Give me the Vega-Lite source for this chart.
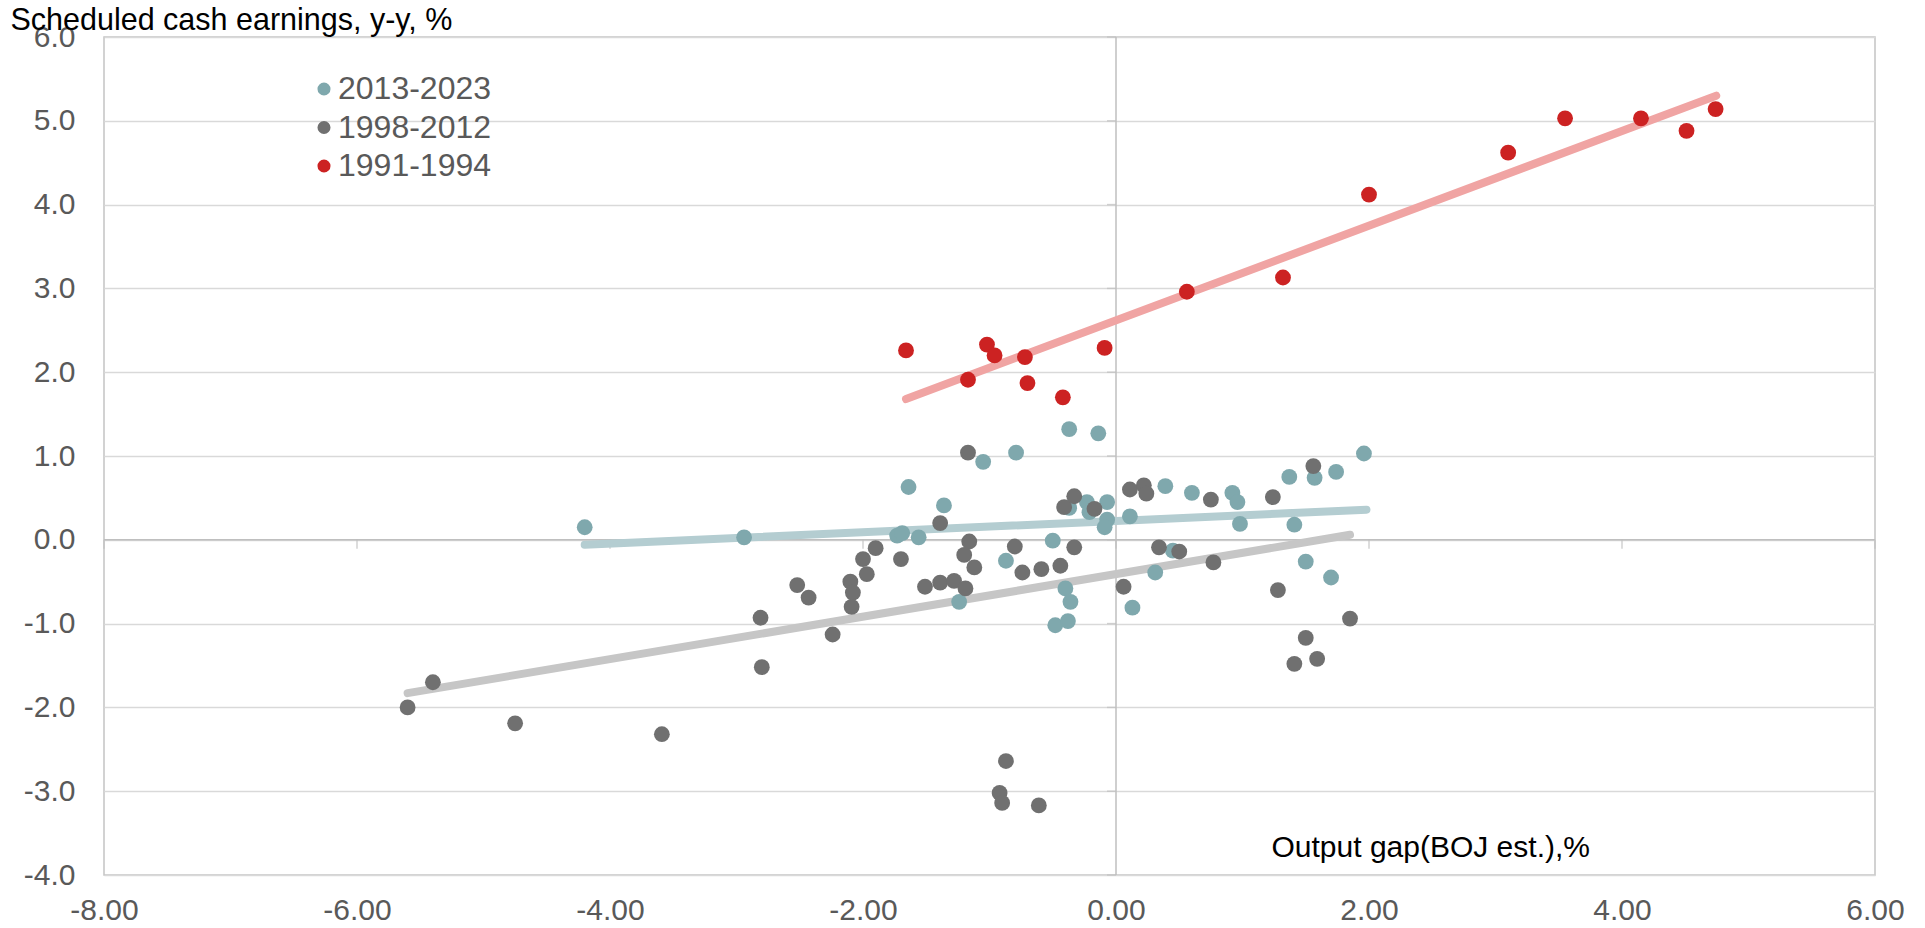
{
  "$schema": "https://vega.github.io/schema/vega-lite/v6.json",
  "width": 1771,
  "height": 838,
  "autosize": {"type": "none"},
  "padding": {"left": 104, "top": 37, "right": 50, "bottom": 53},
  "background": "white",
  "config": {
    "font": "Liberation Sans",
    "view": {"stroke": "#c4c4c4", "strokeWidth": 1.5},
    "locale": {"number": {"decimal": ".", "thousands": ",", "grouping": [3], "currency": ["$", ""], "minus": "-"}}
  },
  "datasets": {
    "pts": [
      {"period": "2013-2023", "gap": -4.20, "wage": 0.15},
      {"period": "2013-2023", "gap": -2.94, "wage": 0.03},
      {"period": "2013-2023", "gap": -1.73, "wage": 0.05},
      {"period": "2013-2023", "gap": -1.69, "wage": 0.08},
      {"period": "2013-2023", "gap": -1.56, "wage": 0.03},
      {"period": "2013-2023", "gap": -1.64, "wage": 0.63},
      {"period": "2013-2023", "gap": -1.36, "wage": 0.41},
      {"period": "2013-2023", "gap": -1.05, "wage": 0.93},
      {"period": "2013-2023", "gap": -0.79, "wage": 1.04},
      {"period": "2013-2023", "gap": -0.37, "wage": 1.32},
      {"period": "2013-2023", "gap": -0.14, "wage": 1.27},
      {"period": "2013-2023", "gap": -0.50, "wage": -0.01},
      {"period": "2013-2023", "gap": -0.87, "wage": -0.25},
      {"period": "2013-2023", "gap": -1.24, "wage": -0.74},
      {"period": "2013-2023", "gap": -0.40, "wage": -0.58},
      {"period": "2013-2023", "gap": -0.36, "wage": -0.74},
      {"period": "2013-2023", "gap": -0.48, "wage": -1.02},
      {"period": "2013-2023", "gap": -0.38, "wage": -0.97},
      {"period": "2013-2023", "gap": -0.23, "wage": 0.45},
      {"period": "2013-2023", "gap": -0.37, "wage": 0.38},
      {"period": "2013-2023", "gap": -0.21, "wage": 0.33},
      {"period": "2013-2023", "gap": -0.07, "wage": 0.45},
      {"period": "2013-2023", "gap": -0.07, "wage": 0.24},
      {"period": "2013-2023", "gap": -0.09, "wage": 0.15},
      {"period": "2013-2023", "gap": 0.11, "wage": 0.28},
      {"period": "2013-2023", "gap": 0.39, "wage": 0.64},
      {"period": "2013-2023", "gap": 0.60, "wage": 0.56},
      {"period": "2013-2023", "gap": 0.92, "wage": 0.56},
      {"period": "2013-2023", "gap": 0.96, "wage": 0.45},
      {"period": "2013-2023", "gap": 0.98, "wage": 0.19},
      {"period": "2013-2023", "gap": 1.37, "wage": 0.75},
      {"period": "2013-2023", "gap": 1.57, "wage": 0.74},
      {"period": "2013-2023", "gap": 1.74, "wage": 0.81},
      {"period": "2013-2023", "gap": 1.96, "wage": 1.03},
      {"period": "2013-2023", "gap": 1.41, "wage": 0.18},
      {"period": "2013-2023", "gap": 0.45, "wage": -0.13},
      {"period": "2013-2023", "gap": 0.31, "wage": -0.39},
      {"period": "2013-2023", "gap": 0.13, "wage": -0.81},
      {"period": "2013-2023", "gap": 1.50, "wage": -0.26},
      {"period": "2013-2023", "gap": 1.70, "wage": -0.45},
      {"period": "1998-2012", "gap": -5.60, "wage": -2.00},
      {"period": "1998-2012", "gap": -5.40, "wage": -1.70},
      {"period": "1998-2012", "gap": -4.75, "wage": -2.19},
      {"period": "1998-2012", "gap": -3.59, "wage": -2.32},
      {"period": "1998-2012", "gap": -2.81, "wage": -0.93},
      {"period": "1998-2012", "gap": -2.80, "wage": -1.52},
      {"period": "1998-2012", "gap": -2.52, "wage": -0.54},
      {"period": "1998-2012", "gap": -2.43, "wage": -0.69},
      {"period": "1998-2012", "gap": -2.24, "wage": -1.13},
      {"period": "1998-2012", "gap": -2.10, "wage": -0.50},
      {"period": "1998-2012", "gap": -2.08, "wage": -0.63},
      {"period": "1998-2012", "gap": -2.09, "wage": -0.80},
      {"period": "1998-2012", "gap": -2.00, "wage": -0.23},
      {"period": "1998-2012", "gap": -1.97, "wage": -0.41},
      {"period": "1998-2012", "gap": -1.90, "wage": -0.10},
      {"period": "1998-2012", "gap": -1.70, "wage": -0.23},
      {"period": "1998-2012", "gap": -1.51, "wage": -0.56},
      {"period": "1998-2012", "gap": -1.39, "wage": -0.51},
      {"period": "1998-2012", "gap": -1.28, "wage": -0.49},
      {"period": "1998-2012", "gap": -1.19, "wage": -0.58},
      {"period": "1998-2012", "gap": -1.39, "wage": 0.20},
      {"period": "1998-2012", "gap": -1.17, "wage": 1.04},
      {"period": "1998-2012", "gap": -1.16, "wage": -0.02},
      {"period": "1998-2012", "gap": -1.20, "wage": -0.18},
      {"period": "1998-2012", "gap": -1.12, "wage": -0.33},
      {"period": "1998-2012", "gap": -0.80, "wage": -0.08},
      {"period": "1998-2012", "gap": -0.74, "wage": -0.39},
      {"period": "1998-2012", "gap": -0.59, "wage": -0.35},
      {"period": "1998-2012", "gap": -0.44, "wage": -0.31},
      {"period": "1998-2012", "gap": -0.33, "wage": -0.09},
      {"period": "1998-2012", "gap": -0.41, "wage": 0.39},
      {"period": "1998-2012", "gap": -0.33, "wage": 0.52},
      {"period": "1998-2012", "gap": -0.17, "wage": 0.37},
      {"period": "1998-2012", "gap": -0.87, "wage": -2.64},
      {"period": "1998-2012", "gap": -0.92, "wage": -3.02},
      {"period": "1998-2012", "gap": -0.90, "wage": -3.14},
      {"period": "1998-2012", "gap": -0.61, "wage": -3.17},
      {"period": "1998-2012", "gap": 0.06, "wage": -0.56},
      {"period": "1998-2012", "gap": 0.11, "wage": 0.60},
      {"period": "1998-2012", "gap": 0.22, "wage": 0.65},
      {"period": "1998-2012", "gap": 0.24, "wage": 0.55},
      {"period": "1998-2012", "gap": 0.34, "wage": -0.09},
      {"period": "1998-2012", "gap": 0.50, "wage": -0.14},
      {"period": "1998-2012", "gap": 0.75, "wage": 0.48},
      {"period": "1998-2012", "gap": 0.77, "wage": -0.27},
      {"period": "1998-2012", "gap": 1.24, "wage": 0.51},
      {"period": "1998-2012", "gap": 1.56, "wage": 0.88},
      {"period": "1998-2012", "gap": 1.28, "wage": -0.60},
      {"period": "1998-2012", "gap": 1.85, "wage": -0.94},
      {"period": "1998-2012", "gap": 1.50, "wage": -1.17},
      {"period": "1998-2012", "gap": 1.41, "wage": -1.48},
      {"period": "1998-2012", "gap": 1.59, "wage": -1.42},
      {"period": "1991-1994", "gap": -1.66, "wage": 2.26},
      {"period": "1991-1994", "gap": -1.17, "wage": 1.91},
      {"period": "1991-1994", "gap": -1.02, "wage": 2.33},
      {"period": "1991-1994", "gap": -0.96, "wage": 2.20},
      {"period": "1991-1994", "gap": -0.72, "wage": 2.18},
      {"period": "1991-1994", "gap": -0.70, "wage": 1.87},
      {"period": "1991-1994", "gap": -0.42, "wage": 1.70},
      {"period": "1991-1994", "gap": -0.09, "wage": 2.29},
      {"period": "1991-1994", "gap": 0.56, "wage": 2.96},
      {"period": "1991-1994", "gap": 1.32, "wage": 3.13},
      {"period": "1991-1994", "gap": 2.00, "wage": 4.12},
      {"period": "1991-1994", "gap": 3.10, "wage": 4.62},
      {"period": "1991-1994", "gap": 3.55, "wage": 5.03},
      {"period": "1991-1994", "gap": 4.15, "wage": 5.03},
      {"period": "1991-1994", "gap": 4.51, "wage": 4.88},
      {"period": "1991-1994", "gap": 4.74, "wage": 5.14}
    ],
    "fits": [
      {"period": "2013-2023", "gap": -4.20, "wage": -0.06},
      {"period": "2013-2023", "gap": 1.98, "wage": 0.36},
      {"period": "1998-2012", "gap": -5.60, "wage": -1.83},
      {"period": "1998-2012", "gap": 1.85, "wage": 0.06},
      {"period": "1991-1994", "gap": -1.66, "wage": 1.68},
      {"period": "1991-1994", "gap": 4.745, "wage": 5.30}
    ],
    "xticks": [{"t": -8}, {"t": -6}, {"t": -4}, {"t": -2}, {"t": 0}, {"t": 2}, {"t": 4}, {"t": 6}],
    "yticks": [{"t": -4}, {"t": -3}, {"t": -2}, {"t": -1}, {"t": 0}, {"t": 1}, {"t": 2}, {"t": 3}, {"t": 4}, {"t": 5}, {"t": 6}],
    "one": [{"z": 0}]
  },
  "layer": [
    {
      "data": {"name": "one"},
      "mark": {"type": "rule", "color": "#bfbfbf", "strokeWidth": 1.5},
      "encoding": {
        "x": {
          "field": "z", "type": "quantitative",
          "scale": {"domain": [-8, 6], "nice": false, "zero": false},
          "axis": {
            "values": [-8, -6, -4, -2, 0, 2, 4, 6],
            "format": ".2f",
            "grid": false, "domain": false, "ticks": false,
            "labelFlush": false, "labelOverlap": false,
            "labelFont": "Liberation Sans", "labelFontSize": 30, "labelColor": "#595959",
            "labelPadding": 20,
            "title": "Output gap(BOJ est.),%",
            "titleFont": "Liberation Sans", "titleFontSize": 30, "titleFontWeight": "normal", "titleColor": "#000000",
            "titleX": 1167, "titleY": -28, "titleAlign": "left", "titleBaseline": "middle", "titleAnchor": null
          }
        }
      }
    },
    {
      "data": {"name": "one"},
      "mark": {"type": "rule", "color": "#bfbfbf", "strokeWidth": 1.5},
      "encoding": {
        "y": {
          "field": "z", "type": "quantitative",
          "scale": {"domain": [-4, 6], "nice": false, "zero": false},
          "axis": {
            "values": [-4, -3, -2, -1, 0, 1, 2, 3, 4, 5, 6],
            "format": ".1f",
            "grid": true, "gridColor": "#d9d9d9", "gridWidth": 1.5,
            "domain": false, "ticks": false,
            "labelFlush": false, "labelOverlap": false,
            "labelFont": "Liberation Sans", "labelFontSize": 30, "labelColor": "#595959",
            "labelPadding": 29,
            "title": "Scheduled cash earnings, y-y, %",
            "titleFont": "Liberation Sans", "titleFontSize": 30.5, "titleFontWeight": "normal", "titleColor": "#000000",
            "titleAngle": 0, "titleX": -94, "titleY": -8, "titleAlign": "left", "titleBaseline": "alphabetic", "titleAnchor": null
          }
        }
      }
    },
    {
      "data": {"name": "xticks"},
      "mark": {"type": "tick", "orient": "vertical", "color": "#bfbfbf", "size": 9, "thickness": 1.5, "yOffset": 4.5},
      "encoding": {
        "x": {"field": "t", "type": "quantitative"},
        "y": {"datum": 0, "type": "quantitative"}
      }
    },
    {
      "data": {"name": "yticks"},
      "mark": {"type": "tick", "orient": "horizontal", "color": "#bfbfbf", "size": 9, "thickness": 1.5, "xOffset": -4.5},
      "encoding": {
        "y": {"field": "t", "type": "quantitative"},
        "x": {"datum": 0, "type": "quantitative"}
      }
    },
    {
      "data": {"name": "fits"},
      "transform": [{"filter": {"field": "period", "equal": "2013-2023"}}],
      "mark": {"type": "line", "strokeWidth": 8, "strokeCap": "round", "color": "#b4cdd1"},
      "encoding": {
        "x": {"field": "gap", "type": "quantitative"},
        "y": {"field": "wage", "type": "quantitative"}
      }
    },
    {
      "data": {"name": "fits"},
      "transform": [{"filter": {"field": "period", "equal": "1998-2012"}}],
      "mark": {"type": "line", "strokeWidth": 8, "strokeCap": "round", "color": "#c6c6c6"},
      "encoding": {
        "x": {"field": "gap", "type": "quantitative"},
        "y": {"field": "wage", "type": "quantitative"}
      }
    },
    {
      "data": {"name": "fits"},
      "transform": [{"filter": {"field": "period", "equal": "1991-1994"}}],
      "mark": {"type": "line", "strokeWidth": 8, "strokeCap": "round", "color": "#f0a4a3"},
      "encoding": {
        "x": {"field": "gap", "type": "quantitative"},
        "y": {"field": "wage", "type": "quantitative"}
      }
    },
    {
      "data": {"name": "pts"},
      "mark": {"type": "circle", "size": 250, "opacity": 1},
      "encoding": {
        "x": {"field": "gap", "type": "quantitative"},
        "y": {"field": "wage", "type": "quantitative"},
        "color": {
          "field": "period", "type": "nominal",
          "scale": {"domain": ["2013-2023", "1998-2012", "1991-1994"], "range": ["#7fa8ad", "#707070", "#cc2222"]},
          "legend": {
            "title": null, "orient": "none", "legendX": 204, "legendY": 36,
            "symbolType": "circle", "symbolSize": 170, "symbolOpacity": 1,
            "labelFont": "Liberation Sans", "labelFontSize": 32, "labelColor": "#595959",
            "labelOffset": -2, "rowPadding": 6.5
          }
        }
      }
    }
  ]
}
